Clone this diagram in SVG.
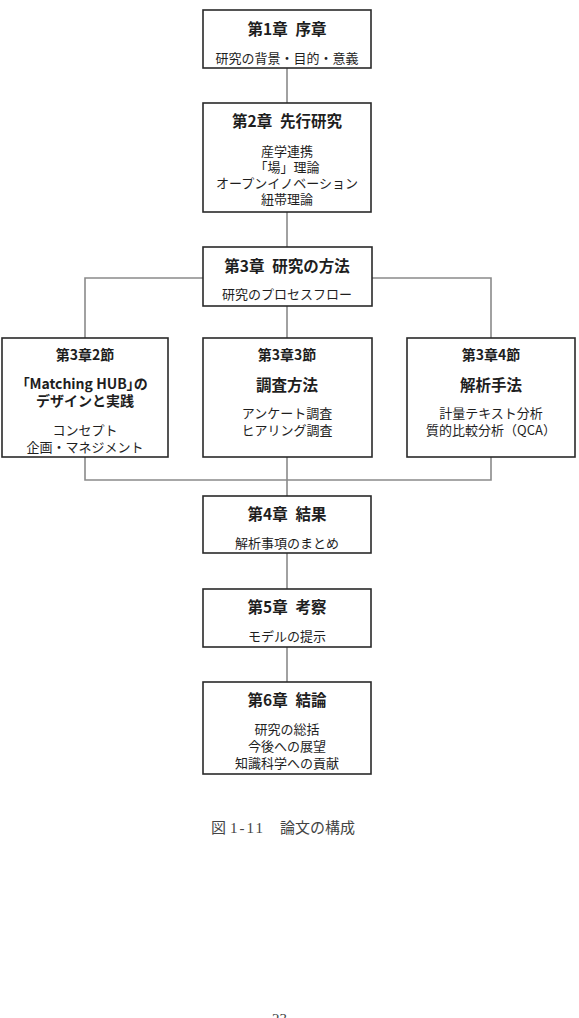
<svg xmlns="http://www.w3.org/2000/svg" width="579" height="1018" viewBox="0 0 579 1018">
<style>
.box{fill:#fff;stroke:#2a2a2a;stroke-width:1.6}
.con{fill:none;stroke:#8a8a8a;stroke-width:1.6}
text{font-family:"Noto Sans CJK JP","Noto Sans",sans-serif;fill:#1e1e1e;text-anchor:middle;dominant-baseline:central}
.t{font-size:15.5px;font-weight:bold}
.h{font-size:14px;font-weight:bold}
.b{font-size:13px}
.p{font-feature-settings:"palt"}
.cap{font-family:"Liberation Serif","Noto Sans CJK JP",serif;font-size:15px;fill:#444;text-anchor:start}
</style>
<rect width="579" height="1018" fill="#fff"/>
<g id="connectors">
<path class="con" d="M287 68V103M287 212V247M287 306V338M203 278H85V338M372 278H491V338M85 457V480H491V457M287 457V496M287 553V589M287 647V682"/>
</g>
<g id="ch1">
<rect class="box" x="203" y="10" width="168" height="58"/>
<text class="t" x="287" y="28">第1章&#x2002;序章</text>
<text class="b" x="287" y="57">研究の背景・目的・意義</text>
</g>
<g id="ch2">
<rect class="box" x="203" y="103" width="168" height="109"/>
<text class="t" x="287" y="120">第2章&#x2002;先行研究</text>
<text class="b" x="287" y="150">産学連携</text>
<text class="b" x="287" y="166">「場」理論</text>
<text class="b" x="287" y="182">オープンイノベーション</text>
<text class="b" x="287" y="198">紐帯理論</text>
</g>
<g id="ch3">
<rect class="box" x="203" y="247" width="169" height="59"/>
<text class="t" x="287" y="265">第3章&#x2002;研究の方法</text>
<text class="b" x="287" y="293">研究のプロセスフロー</text>
</g>
<g id="ch3-2">
<rect class="box" x="2" y="338" width="166" height="119"/>
<text class="h" x="85" y="354">第3章2節</text>
<text class="h p" x="85" y="383">「Matching HUB」の</text>
<text class="h" x="85" y="400">デザインと実践</text>
<text class="b" x="85" y="429">コンセプト</text>
<text class="b" x="85" y="446">企画・マネジメント</text>
</g>
<g id="ch3-3">
<rect class="box" x="203" y="338" width="169" height="119"/>
<text class="h" x="287" y="354">第3章3節</text>
<text class="t" x="287" y="384">調査方法</text>
<text class="b" x="287" y="412">アンケート調査</text>
<text class="b" x="287" y="429">ヒアリング調査</text>
</g>
<g id="ch3-4">
<rect class="box" x="407" y="338" width="168" height="119"/>
<text class="h" x="491" y="354">第3章4節</text>
<text class="t" x="491" y="384">解析手法</text>
<text class="b" x="491" y="412">計量テキスト分析</text>
<text class="b" x="491" y="429">質的比較分析（QCA）</text>
</g>
<g id="ch4">
<rect class="box" x="203" y="496" width="168" height="57"/>
<text class="t" x="287" y="513">第4章&#x2002;結果</text>
<text class="b" x="287" y="542">解析事項のまとめ</text>
</g>
<g id="ch5">
<rect class="box" x="203" y="589" width="168" height="58"/>
<text class="t" x="287" y="606">第5章&#x2002;考察</text>
<text class="b" x="287" y="635">モデルの提示</text>
</g>
<g id="ch6">
<rect class="box" x="203" y="682" width="168" height="92"/>
<text class="t" x="287" y="699">第6章&#x2002;結論</text>
<text class="b" x="287" y="728">研究の総括</text>
<text class="b" x="287" y="745">今後への展望</text>
<text class="b" x="287" y="762">知識科学への貢献</text>
</g>
<g id="caption">
<text class="cap" y="828"><tspan x="211">図</tspan><tspan x="230" letter-spacing="2">1-11</tspan><tspan x="280">論文の構成</tspan></text>
</g>
<text class="cap" x="272" y="1024" style="dominant-baseline:auto">23</text>
</svg>
